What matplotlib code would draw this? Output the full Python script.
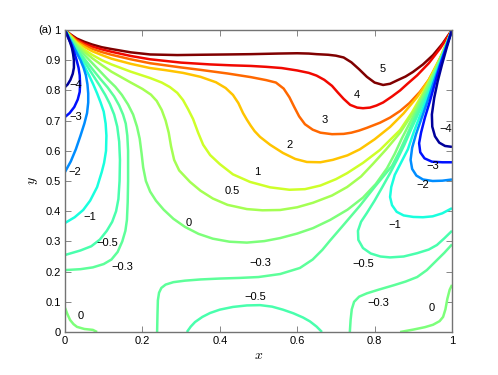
import numpy as np
import matplotlib
matplotlib.use("Agg")
import matplotlib.pyplot as plt
from matplotlib.colors import TwoSlopeNorm

plt.rcParams['font.family'] = ['Liberation Sans', 'DejaVu Sans']
plt.rcParams['mathtext.fontset'] = 'cm'

# contour lines, one x/y pair per piece (data units)
c5_x = [0, .015, .03, .05, .07, .095, .12, .17, .22, .29, .35, .42, .48, .55, .6, .63, .65, .68, .70, .72, .74, .76, .78, .8, .822, .84, .858, .88, .899, .925, .951, .975, 1]
c5_y = [1, .985, .972, .961, .952, .943, .937, .926, .919, .917, .918, .919, .92, .922, .923, .922, .92, .918, .915, .909, .893, .87, .845, .826, .818, .822, .833, .846, .861, .886, .917, .954, 1]

c4_x = [0, .015, .03, .05, .07, .095, .12, .17, .22, .3, .375, .43, .48, .52, .56, .6, .63, .65, .67, .69, .705, .72, .737, .755, .77, .788, .805, .822, .845, .866, .885, .91, .94, .97, 1]
c4_y = [1, .983, .968, .955, .945, .936, .928, .914, .903, .892, .886, .883, .881, .878, .874, .866, .858, .849, .835, .815, .793, .772, .752, .743, .741, .743, .75, .76, .78, .8, .822, .85, .89, .94, 1]

c3_x = [0, .015, .03, .05, .07, .095, .12, .17, .22, .3, .35, .42, .48, .52, .545, .565, .58, .592, .605, .62, .64, .66, .69, .72, .74, .76, .78, .814, .84, .866, .89, .917, .94, .96, .98, 1]
c3_y = [1, .982, .965, .95, .938, .927, .918, .903, .89, .876, .868, .856, .844, .834, .826, .806, .777, .746, .714, .688, .670, .660, .655, .656, .660, .667, .676, .693, .71, .732, .758, .795, .835, .88, .935, 1]

c2_x = [0, .015, .03, .05, .07, .095, .12, .17, .22, .26, .305, .35, .39, .415, .434, .448, .46, .47, .48, .49, .504, .53, .563, .595, .625, .66, .692, .73, .762, .8, .84, .875, .91, .94, .97, 1]
c2_y = [1, .98, .96, .944, .93, .917, .905, .888, .874, .867, .858, .845, .827, .808, .785, .758, .725, .703, .683, .665, .646, .62, .593, .573, .563, .562, .570, .585, .605, .638, .679, .724, .778, .835, .91, 1]

c1_x = [0, .015, .03, .05, .07, .095, .12, .17, .22, .25, .271, .29, .305, .318, .331, .344, .357, .375, .40, .434, .478, .53, .58, .62, .66, .70, .729, .77, .814, .866, .897, .92, .946, .975, 1]
c1_y = [1, .978, .957, .935, .918, .9, .886, .862, .841, .826, .811, .792, .768, .738, .705, .66, .62, .586, .556, .522, .497, .479, .471, .473, .485, .506, .526, .56, .603, .669, .728, .78, .845, .92, 1]

c05_x = [0, .015, .03, .05, .07, .095, .12, .17, .2, .222, .237, .25, .26, .268, .274, .282, .295, .323, .35, .382, .42, .47, .51, .556, .6, .641, .69, .729, .765, .796, .83, .866, .904, .93, .955, .978, 1]
c05_y = [1, .975, .952, .928, .907, .884, .862, .826, .805, .786, .765, .735, .7, .66, .615, .57, .535, .497, .468, .442, .421, .407, .403, .404, .413, .428, .452, .48, .515, .557, .605, .66, .735, .795, .86, .925, 1]

c0_x = [0, .015, .03, .05, .07, .09, .11, .13, .147, .163, .176, .186, .193, .198, .202, .209, .22, .235, .255, .28, .31, .345, .382, .425, .47, .515, .556, .6, .641, .685, .73, .77, .803, .832, .852, .87, .89, .91, .932, .955, .978, 1]
c0_y = [1, .973, .947, .918, .891, .864, .837, .812, .785, .753, .72, .68, .64, .59, .545, .5, .465, .435, .405, .375, .348, .325, .309, .299, .296, .301, .311, .326, .344, .371, .405, .445, .49, .542, .59, .64, .69, .74, .8, .862, .93, 1]
c0_bl_x = [0, .006, .013, .022, .031, .05, .072, .083]
c0_bl_y = [.08, .06, .04, .026, .017, .01, .007, 0]
c0_br_x = [.866, .9, .93, .951, .968, .977, .983, .988, .994, 1]
c0_br_y = [0, .008, .016, .024, .036, .05, .075, .11, .14, .156]

cm03_l_x = [0, .015, .03, .05, .07, .09, .11, .127, .14, .15, .157, .161, .163, .163, .162, .16, .156, .148, .136, .12, .1, .072, .04, 0]
cm03_l_y = [1, .97, .94, .905, .872, .84, .81, .78, .75, .72, .69, .65, .6, .5, .43, .371, .335, .3, .265, .24, .225, .214, .208, .205]
cm03_m_x = [.238, .239, .240, .243, .249, .26, .28, .31, .35, .40, .45, .5, .556, .607, .64, .665, .685, .72, .762, .8, .845, .865, .883, .9, .918, .938, .958, .978, 1]
cm03_m_y = [0, .06, .105, .13, .146, .157, .165, .17, .174, .177, .179, .182, .192, .212, .24, .272, .303, .355, .418, .48, .55, .6, .65, .7, .75, .8, .855, .92, 1]
cm03_r_x = [.736, .738, .741, .747, .76, .78, .81, .85, .88, .91, .935, .961, .98, 1]
cm03_r_y = [0, .04, .075, .1, .117, .128, .14, .155, .167, .182, .205, .238, .262, .29]

cm05_l_x = [0, .015, .03, .045, .06, .075, .09, .104, .116, .127, .135, .14, .142, .141, .138, .132, .122, .108, .09, .068, .04, 0]
cm05_l_y = [1, .968, .935, .905, .875, .845, .815, .785, .755, .72, .68, .63, .57, .5, .44, .4, .365, .335, .306, .284, .27, .255]
cm05_b_x = [.315, .325, .336, .355, .375, .4, .434, .47, .504, .535, .563, .59, .615, .633, .65, .664]
cm05_b_y = [0, .018, .033, .05, .063, .074, .083, .088, .089, .084, .074, .062, .048, .035, .018, 0]
cm05_r_x = [1, .978, .961, .944, .927, .91, .894, .877, .858, .84, .82, .8, .78, .765, .757, .758, .77, .79, .815, .84, .875, .91, .94, .961, .98, 1]
cm05_r_y = [1, .925, .87, .815, .765, .715, .67, .62, .57, .526, .48, .435, .394, .365, .335, .305, .278, .26, .25, .247, .25, .261, .273, .288, .31, .335]

cm1_l_x = [0, .012, .025, .038, .05, .062, .073, .083, .092, .1, .105, .107, .106, .101, .095, .083, .065, .047, .025, 0]
cm1_l_y = [1, .97, .94, .91, .88, .85, .82, .79, .76, .73, .69, .65, .6, .56, .53, .48, .435, .404, .38, .361]
cm1_r_x = [1, .979, .963, .947, .932, .917, .902, .886, .868, .852, .843, .84, .845, .857, .875, .9, .925, .95, .975, 1]
cm1_r_y = [1, .925, .87, .815, .765, .715, .665, .605, .56, .52, .48, .447, .42, .398, .386, .381, .38, .383, .393, .41]

cm2_l_x = [0, .01, .02, .03, .04, .048, .054, .058, .06, .06, .057, .05, .04, .028, .015, 0]
cm2_l_y = [1, .975, .95, .925, .9, .875, .85, .82, .79, .76, .725, .69, .65, .605, .565, .53]
cm2_r_x = [1, .981, .966, .951, .937, .922, .907, .897, .893, .897, .908, .925, .95, .975, 1]
cm2_r_y = [1, .93, .875, .82, .765, .71, .655, .61, .57, .54, .518, .505, .5, .501, .505]

cm3_l_x = [0, .008, .017, .024, .03, .035, .038, .039, .038, .033, .024, .012, 0]
cm3_l_y = [1, .975, .95, .925, .9, .875, .85, .82, .795, .77, .745, .725, .712]
cm3_r_x = [1, .983, .969, .955, .942, .93, .92, .915, .918, .929, .948, .975, 1]
cm3_r_y = [1, .935, .88, .82, .76, .71, .66, .625, .595, .575, .564, .562, .562]

cm4_l_x = [0, .007, .013, .018, .021, .023, .023, .02, .014, .007, 0]
cm4_l_y = [1, .98, .96, .94, .92, .9, .875, .855, .835, .82, .811]
cm4_r_x = [1, .986, .974, .963, .954, .948, .949, .956, .967, .982, 1]
cm4_r_y = [1, .94, .885, .83, .775, .72, .68, .648, .627, .616, .613]

# contour labels: text and position
label_text = ['5', '4', '3', '2', '1', '0.5', '0', '−0.3', '−0.5', '−0.5', '−1', '−0.3', '0',
              '−2', '−3', '−4', '−4', '−3', '−2', '−1', '−0.5', '−0.3', '0']
label_x = [.822, .755, .672, .579, .496, .432, .32, .504, .491, .77, .853, .809, .948,
           .925, .951, .984, .028, .028, .026, .065, .109, .147, .041]
label_y = [.871, .785, .702, .619, .53, .467, .361, .228, .116, .225, .354, .096, .079,
           .487, .55, .672, .818, .712, .53, .381, .295, .215, .053]

pieces = [
    (5, c5_x, c5_y), (4, c4_x, c4_y), (3, c3_x, c3_y), (2, c2_x, c2_y),
    (1, c1_x, c1_y), (0.5, c05_x, c05_y),
    (0, c0_x, c0_y), (0, c0_bl_x, c0_bl_y), (0, c0_br_x, c0_br_y),
    (-0.3, cm03_l_x, cm03_l_y), (-0.3, cm03_m_x, cm03_m_y), (-0.3, cm03_r_x, cm03_r_y),
    (-0.5, cm05_l_x, cm05_l_y), (-0.5, cm05_b_x, cm05_b_y), (-0.5, cm05_r_x, cm05_r_y),
    (-1, cm1_l_x, cm1_l_y), (-1, cm1_r_x, cm1_r_y),
    (-2, cm2_l_x, cm2_l_y), (-2, cm2_r_x, cm2_r_y),
    (-3, cm3_l_x, cm3_l_y), (-3, cm3_r_x, cm3_r_y),
    (-4, cm4_l_x, cm4_l_y), (-4, cm4_r_x, cm4_r_y),
]

cmap = plt.get_cmap('jet')
norm = TwoSlopeNorm(vmin=-4.2, vcenter=0, vmax=5)

fig = plt.figure(figsize=(4.98, 3.75), dpi=100)
ax = fig.add_axes([65 / 498, 43 / 375, 387 / 498, 302 / 375])

for lev, xs, ys in pieces:
    ax.plot(xs, ys, color=cmap(norm(lev)), lw=1.8, solid_joinstyle='round', solid_capstyle='butt')

for t, x, y in zip(label_text, label_x, label_y):
    ax.text(x, y, t, fontsize=8, ha='center', va='center')

ax.set_xlim(0, 1)
ax.set_ylim(0, 1)
ax.set_xticks(np.arange(0, 1.01, 0.2))
ax.set_xticklabels(['0', '0.2', '0.4', '0.6', '0.8', '1'])
ax.set_yticks(np.arange(0, 1.01, 0.1))
ax.set_yticklabels(['0', '0.1', '0.2', '0.3', '0.4', '0.5', '0.6', '0.7', '0.8', '0.9', '1'])
ax.tick_params(direction='in', top=True, right=True, length=4, width=0.6,
               color='0.45', labelsize=8, pad=3)
for s in ax.spines.values():
    s.set_color('0.45')
    s.set_linewidth(1.0)

ax.set_xlabel('$x$', fontsize=10, labelpad=1)
ax.set_ylabel('$y$', fontsize=10, labelpad=4)
ax.text(-0.034, 1.0, '(a)', fontsize=8, ha='right', va='center', transform=ax.transAxes)

fig.savefig('out.png', dpi=100)
